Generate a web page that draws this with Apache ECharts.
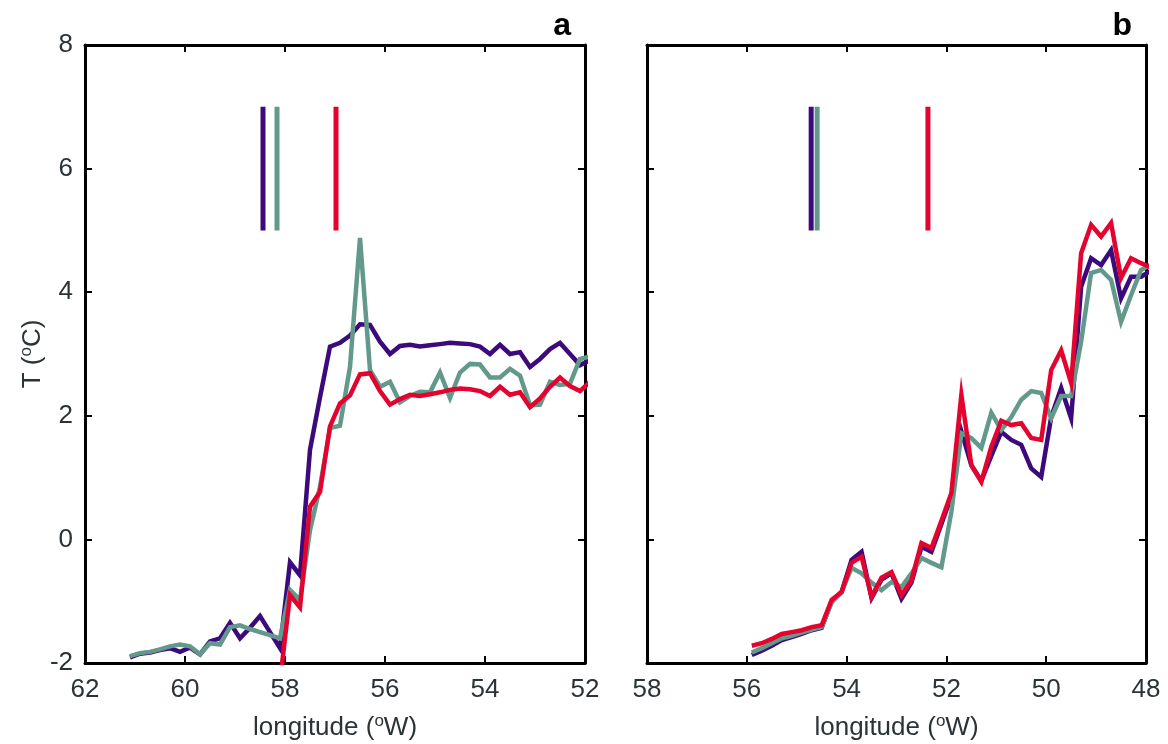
<!DOCTYPE html>
<html>
<head>
<meta charset="utf-8">
<script src="https://cdn.jsdelivr.net/npm/echarts@6/dist/echarts.min.js"></script>
<style>
  html, body { margin: 0; padding: 0; background: #fff; }
  #chart { width: 1168px; height: 744px; }
</style>
</head>
<body>
<div id="chart"></div>
<script>
// Panel a: longitude grid and temperature profiles
const lonA = [61.1, 60.9, 60.7, 60.5, 60.3, 60.1, 59.9, 59.7, 59.5, 59.3, 59.1, 58.9, 58.7, 58.5, 58.3, 58.1,
              57.9, 57.7, 57.5, 57.3, 57.1, 56.9, 56.7, 56.5, 56.3, 56.1, 55.9, 55.7, 55.5, 55.3, 55.1,
              54.9, 54.7, 54.5, 54.3, 54.1, 53.9, 53.7, 53.5, 53.3, 53.1, 52.9, 52.7, 52.5, 52.3, 52.1, 51.9];
const purpleA = [-1.91, -1.85, -1.83, -1.79, -1.76, -1.82, -1.75, -1.86, -1.65, -1.60, -1.35, -1.60, -1.43, -1.24, -1.50, -1.76,
                 -0.37, -0.58, 1.45, 2.30, 3.12, 3.18, 3.30, 3.48, 3.47, 3.20, 3.00, 3.13, 3.15, 3.12, 3.14,
                 3.16, 3.18, 3.17, 3.16, 3.12, 3.00, 3.15, 3.00, 3.03, 2.79, 2.92, 3.08, 3.18, 3.00, 2.82, 2.90];
const greenA = [-1.89, -1.84, -1.82, -1.78, -1.73, -1.70, -1.73, -1.86, -1.68, -1.70, -1.42, -1.39, -1.45, -1.50, -1.55, -1.60,
                -0.82, -0.98, 0.15, 0.85, 1.80, 1.84, 2.79, 4.88, 2.74, 2.47, 2.55, 2.22, 2.32, 2.39, 2.38,
                2.70, 2.29, 2.70, 2.84, 2.83, 2.62, 2.62, 2.76, 2.65, 2.17, 2.18, 2.55, 2.50, 2.52, 2.92, 2.96];
const redA = [null, null, null, null, null, null, null, null, null, null, null, null, null, null, null, -2.30,
              -0.90, -1.10, 0.53, 0.77, 1.83, 2.20, 2.33, 2.67, 2.69, 2.40, 2.18, 2.27, 2.34, 2.32, 2.35,
              2.38, 2.42, 2.44, 2.43, 2.40, 2.32, 2.47, 2.34, 2.38, 2.14, 2.28, 2.47, 2.62, 2.48, 2.40, 2.55];
// Front positions marked at the top of panel a (lon), drawn from 5 to 7 degC
const markA = [58.44, 58.16, 56.98];

// Panel b: longitude grid and temperature profiles
const lonB = [55.9, 55.7, 55.5, 55.3, 55.1, 54.9, 54.7, 54.5, 54.3, 54.1, 53.9, 53.7, 53.5, 53.3, 53.1, 52.9, 52.7,
              52.5, 52.3, 52.1, 51.9, 51.7, 51.5, 51.3, 51.1, 50.9, 50.7, 50.5, 50.3, 50.1, 49.9, 49.7, 49.5,
              49.3, 49.1, 48.9, 48.7, 48.5, 48.3, 48.1, 47.9];
const purpleB = [-1.87, -1.80, -1.72, -1.63, -1.58, -1.53, -1.47, -1.43, -1.00, -0.85, -0.33, -0.20, -0.95, -0.65, -0.55, -0.96, -0.70,
                 -0.12, -0.20, 0.25, 0.70, 1.75, 1.20, 0.95, 1.35, 1.74, 1.61, 1.53, 1.15, 1.01, 1.98, 2.45, 1.96,
                 4.09, 4.55, 4.44, 4.68, 3.90, 4.25, 4.25, 4.35];
const greenB = [-1.83, -1.76, -1.68, -1.60, -1.56, -1.51, -1.46, -1.42, -1.02, -0.85, -0.46, -0.55, -0.70, -0.82, -0.69, -0.77, -0.55,
                -0.30, -0.38, -0.45, 0.45, 1.72, 1.64, 1.48, 2.05, 1.77, 1.98, 2.26, 2.40, 2.37, 1.96, 2.32, 2.32,
                3.20, 4.31, 4.36, 4.20, 3.52, 3.95, 4.36, 4.45];
const redB = [-1.72, -1.68, -1.61, -1.53, -1.50, -1.47, -1.42, -1.39, -0.98, -0.85, -0.38, -0.28, -0.93, -0.62, -0.53, -0.90, -0.66,
              -0.06, -0.14, 0.30, 0.75, 2.34, 1.20, 0.93, 1.50, 1.92, 1.85, 1.88, 1.64, 1.61, 2.74, 3.06, 2.53,
              4.63, 5.09, 4.90, 5.12, 4.23, 4.55, 4.47, 4.40];
const markB = [54.71, 54.59, 52.37];

const markLow = 5, markHigh = 7;
const yTicks = [-2, 0, 2, 4, 6, 8];

const colors = ['#3c0a7a', '#62998b', '#e4032e'];
const textColor = '#2b3337';
const fontFamily = '"Liberation Sans", Arial, sans-serif';

function pairs(xs, ys) {
  return xs.map((x, i) => [x, ys[i]]);
}

const grids = [
  { left: 85, top: 45, width: 500, height: 618, outerBoundsMode: 'none', containLabel: false },
  { left: 647, top: 45, width: 499, height: 618, outerBoundsMode: 'none', containLabel: false }
];

const xRanges = [[52, 62], [48, 58]];

const xAxes = [];
const yAxes = [];
const nameRich = {
  sup: { fontSize: 17, verticalAlign: 'top', padding: [0, 0, 12, 0], color: textColor, fontFamily },
  base: { fontSize: 26, color: textColor, fontFamily }
};

[0, 1].forEach(g => {
  const [mn, mx] = xRanges[g];
  const axisLine = { show: true, onZero: false, lineStyle: { color: '#000', width: 3 } };
  const axisTick = { show: true, inside: true, length: 7, lineStyle: { color: '#000', width: 2 } };
  xAxes.push({
    gridIndex: g, type: 'value', position: 'bottom', inverse: true, min: mn, max: mx, interval: 2,
    axisLine, axisTick, splitLine: { show: false },
    axisLabel: { color: textColor, fontSize: 26, fontFamily, margin: 14 },
    name: '{base|longitude (}{sup|o}{base|W)}', nameLocation: 'middle', nameGap: 50,
    nameTextStyle: { rich: nameRich }
  });
  xAxes.push({
    gridIndex: g, type: 'value', position: 'top', inverse: true, min: mn, max: mx, interval: 2,
    axisLine, axisTick, splitLine: { show: false }, axisLabel: { show: false }
  });
  yAxes.push({
    gridIndex: g, type: 'value', position: 'left', min: -2, max: 8, interval: 2,
    axisLine, axisTick, splitLine: { show: false },
    axisLabel: { show: g === 0, color: textColor, fontSize: 26, fontFamily, margin: 12,
                 formatter: v => yTicks.includes(v) ? String(v) : '' },
    name: g === 0 ? '{base|T (}{sup|o}{base|C)}' : '', nameLocation: 'middle', nameGap: 38,
    nameRotate: 90, nameTextStyle: { rich: nameRich }
  });
  yAxes.push({
    gridIndex: g, type: 'value', position: 'right', min: -2, max: 8, interval: 2,
    axisLine, axisTick, splitLine: { show: false }, axisLabel: { show: false }
  });
});

function lineSeries(g, data, color, z, width) {
  return {
    type: 'line', xAxisIndex: g * 2, yAxisIndex: g * 2, data, color,
    showSymbol: false, symbol: 'none', clip: true, z,
    lineStyle: { width: width || 4.5, color, join: 'miter' }, connectNulls: false, animation: false
  };
}

const series = [
  lineSeries(0, pairs(lonA, purpleA), colors[0], 2),
  lineSeries(0, pairs(lonA, greenA), colors[1], 3),
  lineSeries(0, pairs(lonA, redA), colors[2], 4),
  lineSeries(1, pairs(lonB, purpleB), colors[0], 2),
  lineSeries(1, pairs(lonB, greenB), colors[1], 3),
  lineSeries(1, pairs(lonB, redB), colors[2], 4)
];
[markA, markB].forEach((marks, g) => {
  marks.forEach((lon, i) => {
    series.push(lineSeries(g, [[lon, markLow], [lon, markHigh]], colors[i], 5, 5));
  });
});

const chart = echarts.init(document.getElementById('chart'), null, { renderer: 'canvas' });
chart.setOption({
  backgroundColor: '#fff',
  animation: false,
  grid: grids,
  xAxis: xAxes,
  yAxis: yAxes,
  title: [
    { text: 'a', right: 1168 - 585 + 9, top: 5, textStyle: { fontSize: 32, fontWeight: 'bold', color: '#000', fontFamily } },
    { text: 'b', right: 1168 - 1146 + 9, top: 5, textStyle: { fontSize: 32, fontWeight: 'bold', color: '#000', fontFamily } }
  ],
  series
});
</script>
</body>
</html>
